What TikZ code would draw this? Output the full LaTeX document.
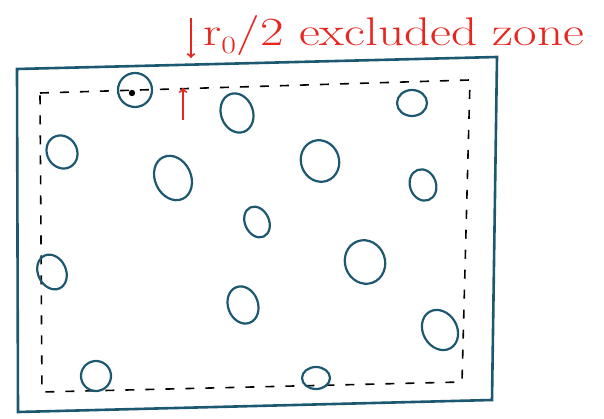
\documentclass[tikz,border=0pt]{standalone}
\usetikzlibrary{shapes.geometric}
\definecolor{ink}{RGB}{28,88,112}
\definecolor{pen}{RGB}{232,37,31}
\begin{document}
\begin{tikzpicture}[x=1pt, y=-1pt]
    \tikzset{>=to}
    \tikzset{grain/.style={ellipse, draw=ink, line width=2.2pt, inner sep=0pt}}
    \useasboundingbox (0,0) rectangle (604,419);
    % outer box and the excluded zone boundary
    \draw[ink, line width=2.6pt] (17,69) -- (497,57) -- (492,400) -- (18,412) -- cycle;
    \draw[black, line width=1.6pt, dash pattern=on 9pt off 11pt] (40,93) -- (470,80) -- (462,382) -- (42,392) -- cycle;
    % particles
    \node[grain, minimum width=34pt, minimum height=34pt] (g1) at (135,90) {};
    \fill (g1.center) ++(-3,3) circle (3.2pt);
    \node[grain, minimum width=32pt, minimum height=40pt, rotate=20] (g2) at (237,113) {};
    \node[grain, minimum width=30pt, minimum height=26pt] (g3) at (412,103) {};
    \node[grain, minimum width=30pt, minimum height=34pt, rotate=30] (g4) at (62,152) {};
    \node[grain, minimum width=36pt, minimum height=46pt, rotate=25] (g5) at (173,178) {};
    \node[grain, minimum width=38pt, minimum height=42pt, rotate=20] (g6) at (320,161) {};
    \node[grain, minimum width=26pt, minimum height=32pt, rotate=20] (g7) at (423,185) {};
    \node[grain, minimum width=24pt, minimum height=32pt, rotate=25] (g8) at (257,222) {};
    \node[grain, minimum width=40pt, minimum height=44pt, rotate=20] (g9) at (365,262) {};
    \node[grain, minimum width=28pt, minimum height=36pt, rotate=25] (g10) at (52,272) {};
    \node[grain, minimum width=30pt, minimum height=38pt, rotate=20] (g11) at (243,305) {};
    \node[grain, minimum width=34pt, minimum height=42pt, rotate=30] (g12) at (440,330) {};
    \node[grain, minimum width=30pt, minimum height=30pt, rotate=30] (g13) at (96,376) {};
    \node[grain, minimum width=28pt, minimum height=22pt] (g14) at (316,378) {};
    % label and arrows
    \node[pen, anchor=base west, inner sep=0pt, font=\fontsize{40}{40}\selectfont] (lbl) at (203,46) {\scalebox{1.28}[1]{r$_0$/2 excluded zone}};
    \coordinate (A1) at (191,18);
    \coordinate (A2) at (191,58);
    \coordinate (B1) at (183,120);
    \coordinate (B2) at (183,88);
    \draw[pen, line width=2pt, ->] (A1) -- (A2);
    \draw[pen, line width=2pt, ->] (B1) -- (B2);
\end{tikzpicture}
\end{document}
